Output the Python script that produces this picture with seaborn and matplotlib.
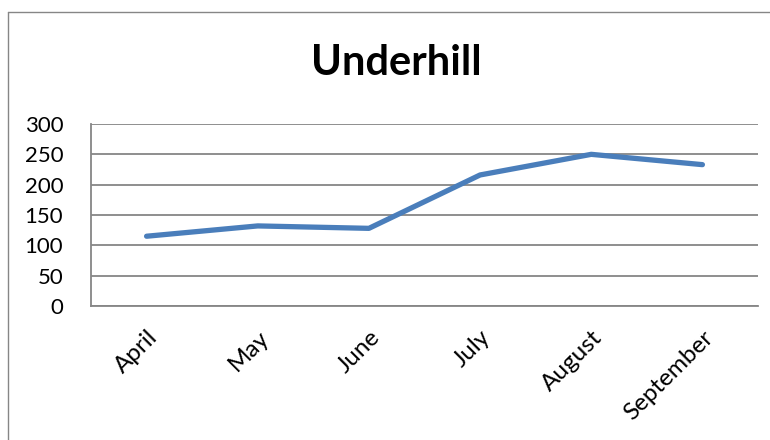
import matplotlib
matplotlib.use("Agg")
import matplotlib.pyplot as plt
from matplotlib.lines import Line2D
import seaborn as sns
import pandas as pd
import numpy as np

months = ["April", "May", "June", "July", "August", "September"]
values = [115, 132, 128, 216, 250, 233]
y_ticks = [0, 50, 100, 150, 200, 250, 300]

df = pd.DataFrame({"month": months, "value": values})

sns.set_style("white")
plt.rcParams["font.family"] = ["Lato", "DejaVu Sans"]
plt.rcParams["text.color"] = "black"
plt.rcParams["xtick.labelcolor"] = "black"
plt.rcParams["ytick.labelcolor"] = "black"

fig = plt.figure(figsize=(7.7, 4.4), dpi=100)
ax = fig.add_axes([91 / 770, 1 - 306 / 440, (758 - 91) / 770, (306 - 124) / 440])

sns.lineplot(data=df, x="month", y="value", ax=ax, color="#4A7EBB",
             linewidth=3.8, sort=False, solid_capstyle="round")

ax.set_xlim(-0.5, len(months) - 0.5)
ax.set_ylim(0, 300)
ax.set_yticks(y_ticks)
ax.set_yticklabels([str(v) for v in y_ticks], fontsize=16)
ax.set_xticks(range(len(months)))
ax.set_xticklabels(months, fontsize=17.5, rotation=45, ha="right",
                   rotation_mode="anchor")
ax.set_xticks(np.arange(-0.5, len(months)), minor=True)
ax.tick_params(axis="x", which="major", length=0, pad=15)
ax.tick_params(axis="x", which="minor", length=6, width=1.2, color="#868686",
               direction="out")
ax.tick_params(axis="y", length=6, width=1.2, color="#868686", direction="out",
               pad=14)
ax.set_xlabel("")
ax.set_ylabel("")

ax.yaxis.grid(True, color="#868686", linewidth=1.3)
ax.set_axisbelow(True)
for side in ["top", "right"]:
    ax.spines[side].set_visible(False)
for side in ["left", "bottom"]:
    ax.spines[side].set_color("#868686")
    ax.spines[side].set_linewidth(1.3)

fig.text(396 / 770, 1 - 63 / 440, "Underhill", ha="center", va="center",
         fontsize=30, fontweight="bold")

# outer chart border
fig.add_artist(Line2D([8 / 770, 8 / 770], [0, 1 - 12 / 440],
                      transform=fig.transFigure, color="#868686", linewidth=1))
fig.add_artist(Line2D([8 / 770, 1], [1 - 12 / 440, 1 - 12 / 440],
                      transform=fig.transFigure, color="#868686", linewidth=1))

fig.savefig("out.png", dpi=100)
